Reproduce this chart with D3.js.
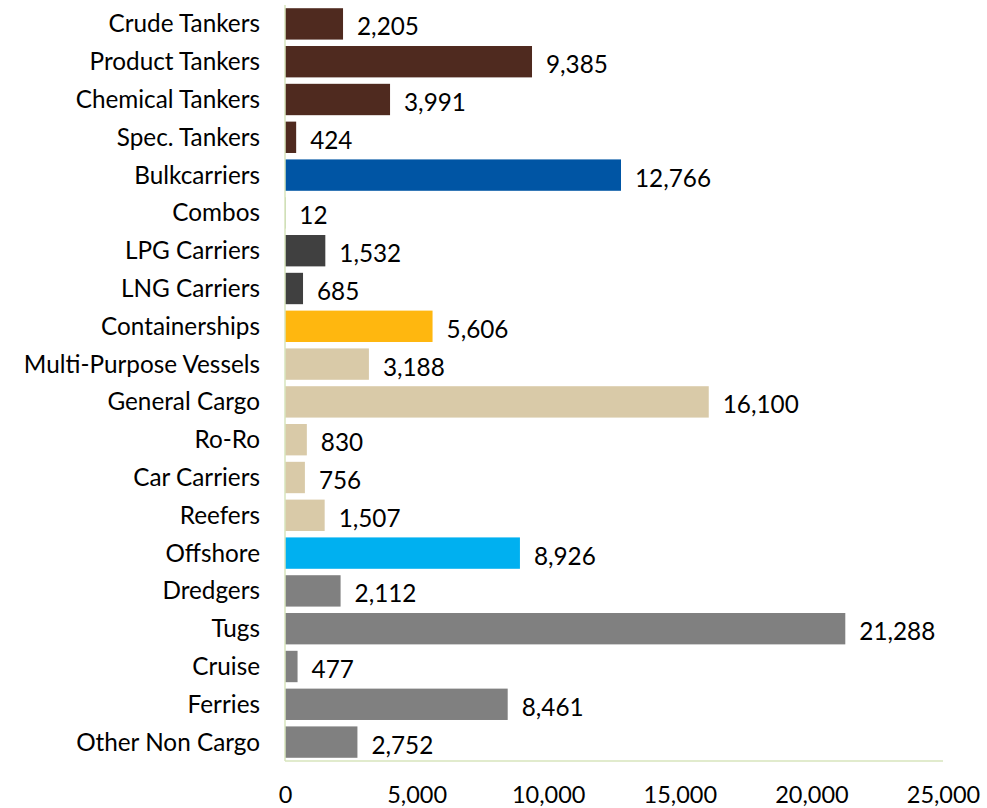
<!DOCTYPE html>
<html>
<head>
<meta charset="utf-8">
<script src="https://d3js.org/d3.v7.min.js"></script>
<style>
  body { margin: 0; background: #fff; }
  text { font-family: Lato, "Open Sans", sans-serif; fill: #000; }
</style>
</head>
<body>
<svg id="chart" width="987" height="808"></svg>
<script>
// ship types, top to bottom
const categories = ["Crude Tankers", "Product Tankers", "Chemical Tankers", "Spec. Tankers",
    "Bulkcarriers", "Combos", "LPG Carriers", "LNG Carriers", "Containerships",
    "Multi-Purpose Vessels", "General Cargo", "Ro-Ro", "Car Carriers", "Reefers",
    "Offshore", "Dredgers", "Tugs", "Cruise", "Ferries", "Other Non Cargo"];
const values = [2205, 9385, 3991, 424, 12766, 12, 1532, 685, 5606, 3188, 16100,
    830, 756, 1507, 8926, 2112, 21288, 477, 8461, 2752];
const groups = ["tanker", "tanker", "tanker", "tanker", "bulk", "combo", "gas", "gas",
    "container", "cargo", "cargo", "cargo", "cargo", "cargo", "offshore",
    "noncargo", "noncargo", "noncargo", "noncargo", "noncargo"];
const xTicks = [0, 5000, 10000, 15000, 20000, 25000];

const colour = d3.scaleOrdinal()
    .domain(["tanker", "bulk", "combo", "gas", "container", "cargo", "offshore", "noncargo"])
    .range(["#4f2a1f", "#0055a4", "#8fae7a", "#404040", "#ffb70f", "#d9caa8", "#00b0f0", "#808080"]);

const data = categories.map((c, i) => ({ name: c, value: values[i], group: groups[i] }));

const svg = d3.select("#chart"),
    margin = { top: 5, right: 44, bottom: 47, left: 285 },
    width = +svg.attr("width") - margin.left - margin.right,
    height = +svg.attr("height") - margin.top - margin.bottom;

const g = svg.append("g").attr("transform", "translate(" + margin.left + "," + margin.top + ")");

const x = d3.scaleLinear().domain([0, 25000]).range([0, width]);
const y = d3.scaleBand().domain(categories).range([0, height]).paddingInner(0.17).paddingOuter(0.085);

const fmt = d3.format(",");
const fs = 24.3;

g.selectAll(".bar")
    .data(data)
    .enter().append("rect")
    .attr("class", "bar")
    .attr("x", 0)
    .attr("y", d => y(d.name))
    .attr("width", d => Math.max(x(d.value), 0.6))
    .attr("height", y.bandwidth())
    .attr("fill", d => colour(d.group));

g.selectAll(".val")
    .data(data)
    .enter().append("text")
    .attr("class", "val")
    .attr("x", d => x(d.value) + 14)
    .attr("y", d => y(d.name) + y.bandwidth() / 2 + 3)
    .attr("dy", "0.35em")
    .attr("font-size", fs)
    .text(d => fmt(d.value));

// category labels
g.selectAll(".cat")
    .data(categories)
    .enter().append("text")
    .attr("class", "cat")
    .attr("x", -25)
    .attr("y", d => y(d) + y.bandwidth() / 2)
    .attr("dy", "0.35em")
    .attr("text-anchor", "end")
    .attr("font-size", fs)
    .text(d => d);

// axis lines
g.append("line")
    .attr("x1", 0).attr("x2", 0).attr("y1", 0).attr("y2", height)
    .attr("stroke", "#d7e4bd").attr("stroke-width", 1.5);
g.append("line")
    .attr("x1", 0).attr("x2", width).attr("y1", height).attr("y2", height)
    .attr("stroke", "#d7e4bd").attr("stroke-width", 1.5);

const xAxis = g.append("g")
    .attr("transform", "translate(0," + height + ")")
    .call(d3.axisBottom(x).tickValues(xTicks).tickFormat(fmt).tickSize(0).tickPadding(25));
xAxis.select(".domain").remove();
xAxis.selectAll("text").attr("font-size", 23.5).attr("font-family", "Lato, 'Open Sans', sans-serif");
</script>
</body>
</html>
